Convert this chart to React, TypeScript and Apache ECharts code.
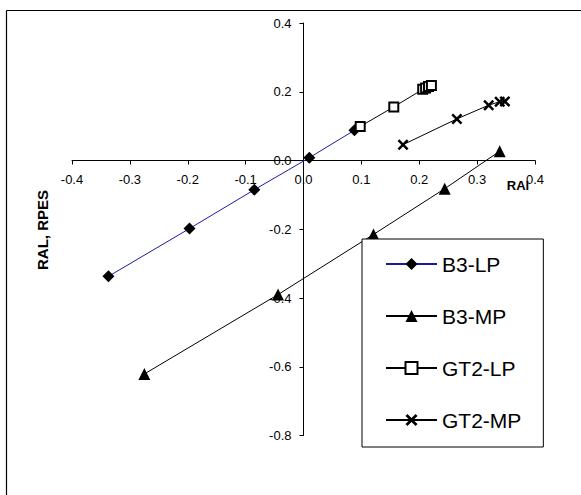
import React, { useEffect, useRef } from "react";
import * as echarts from "echarts";

const seriesNames = ["B3-LP", "B3-MP", "GT2-LP", "GT2-MP"];

const b3LP: [number, number][] = [
  [-0.337, -0.337],
  [-0.197, -0.198],
  [-0.085, -0.085],
  [0.01, 0.008],
  [0.088, 0.088],
];

const b3MP: [number, number][] = [
  [-0.275, -0.621],
  [-0.044, -0.39],
  [0.121, -0.215],
  [0.244, -0.082],
  [0.339, 0.027],
];

const gt2LP: [number, number][] = [
  [0.098, 0.099],
  [0.156, 0.156],
  [0.206, 0.207],
  [0.211, 0.211],
  [0.216, 0.215],
  [0.221, 0.218],
];

const gt2MP: [number, number][] = [
  [0.172, 0.046],
  [0.265, 0.121],
  [0.32, 0.161],
  [0.339, 0.171],
  [0.348, 0.172],
];

const xTicks = { min: -0.4, max: 0.4, interval: 0.1 };
const yTicks = { min: -0.8, max: 0.4, interval: 0.2 };

const FONT = 'Arial, "Liberation Sans", sans-serif';
const X_SHAPE =
  "path://M0,1.6L1.6,0L5,3.4L8.4,0L10,1.6L6.6,5L10,8.4L8.4,10L5,6.6L1.6,10L0,8.4L3.4,5Z";

const fmt = (v: number) => (Math.abs(v) < 1e-9 ? "0.0" : v.toFixed(1));

export default function App() {
  const ref = useRef<HTMLDivElement>(null);
  useEffect(() => {
    if (!ref.current) return;
    const chart = echarts.init(ref.current, undefined, { renderer: "svg" });
    const axisCommon = {
      type: "value" as const,
      splitLine: { show: false },
      axisLine: { onZero: false, lineStyle: { color: "#000", width: 1 } },
      axisTick: { show: true, inside: false, length: 4, lineStyle: { color: "#000" } },
      axisLabel: { color: "#000", fontSize: 13, fontFamily: FONT, margin: 12, formatter: fmt },
    };
    chart.setOption({
      animation: false,
      backgroundColor: "#fff",
      textStyle: { fontFamily: FONT },
      grid: { left: 72, right: 46, top: 23, bottom: 59.5, containLabel: false },
      xAxis: { ...axisCommon, ...xTicks, position: "bottom", offset: 0 },
      yAxis: { ...axisCommon, ...yTicks, position: "left", offset: 0 },
      legend: {
        orient: "vertical",
        left: 362,
        top: 239,
        data: seriesNames,
        itemWidth: 51,
        itemHeight: 15,
        itemGap: 28,
        padding: [13, 22, 15, 23],
        borderColor: "#000",
        borderWidth: 1,
        backgroundColor: "#fff",
        textStyle: { fontSize: 21, color: "#000", fontFamily: FONT, lineHeight: 24 },
      },
      graphic: [
        { type: "line", shape: { x1: 6.5, y1: 10.5, x2: 581, y2: 10.5 }, style: { stroke: "#000", lineWidth: 1.2 } },
        { type: "line", shape: { x1: 6.5, y1: 10.5, x2: 6.5, y2: 495 }, style: { stroke: "#000", lineWidth: 1.2 } },
        {
          type: "text",
          x: 42,
          y: 230,
          rotation: Math.PI / 2,
          style: {
            text: "RAL, RPES",
            font: `bold 15px ${FONT}`,
            fill: "#000",
            align: "center",
            verticalAlign: "middle",
          },
        },
        {
          type: "text",
          x: 518,
          y: 185,
          z: 10,
          style: {
            text: "RAl",
            font: `bold 13px ${FONT}`,
            fill: "#000",
            align: "center",
            verticalAlign: "middle",
          },
        },
      ],
      series: [
        {
          name: seriesNames[0],
          type: "line",
          data: b3LP,
          symbol: "diamond",
          symbolSize: 12,
          lineStyle: { color: "#1c1ca0", width: 1 },
          itemStyle: { color: "#000" },
        },
        {
          name: seriesNames[1],
          type: "line",
          data: b3MP,
          symbol: "triangle",
          symbolSize: 12,
          lineStyle: { color: "#000", width: 1 },
          itemStyle: { color: "#000" },
        },
        {
          name: seriesNames[2],
          type: "line",
          data: gt2LP,
          symbol: "rect",
          symbolSize: 9,
          lineStyle: { color: "#000", width: 1 },
          itemStyle: { color: "#fff", borderColor: "#000", borderWidth: 2 },
        },
        {
          name: seriesNames[3],
          type: "line",
          data: gt2MP,
          symbol: X_SHAPE,
          symbolSize: 11,
          lineStyle: { color: "#000", width: 1 },
          itemStyle: { color: "#000" },
        },
      ],
    });
    // Place both axes through the origin, labels travelling with them.
    const origin = chart.convertToPixel({ gridIndex: 0 }, [0, 0]) as number[];
    const corner = chart.convertToPixel({ gridIndex: 0 }, [xTicks.min, yTicks.min]) as number[];
    chart.setOption({
      xAxis: { offset: -(corner[1] - origin[1]) },
      yAxis: { offset: -(origin[0] - corner[0]) },
    });
    return () => chart.dispose();
  }, []);
  return (
    <div
      ref={ref}
      style={{ position: "fixed", left: 0, top: 0, width: 581, height: 495 }}
    />
  );
}
